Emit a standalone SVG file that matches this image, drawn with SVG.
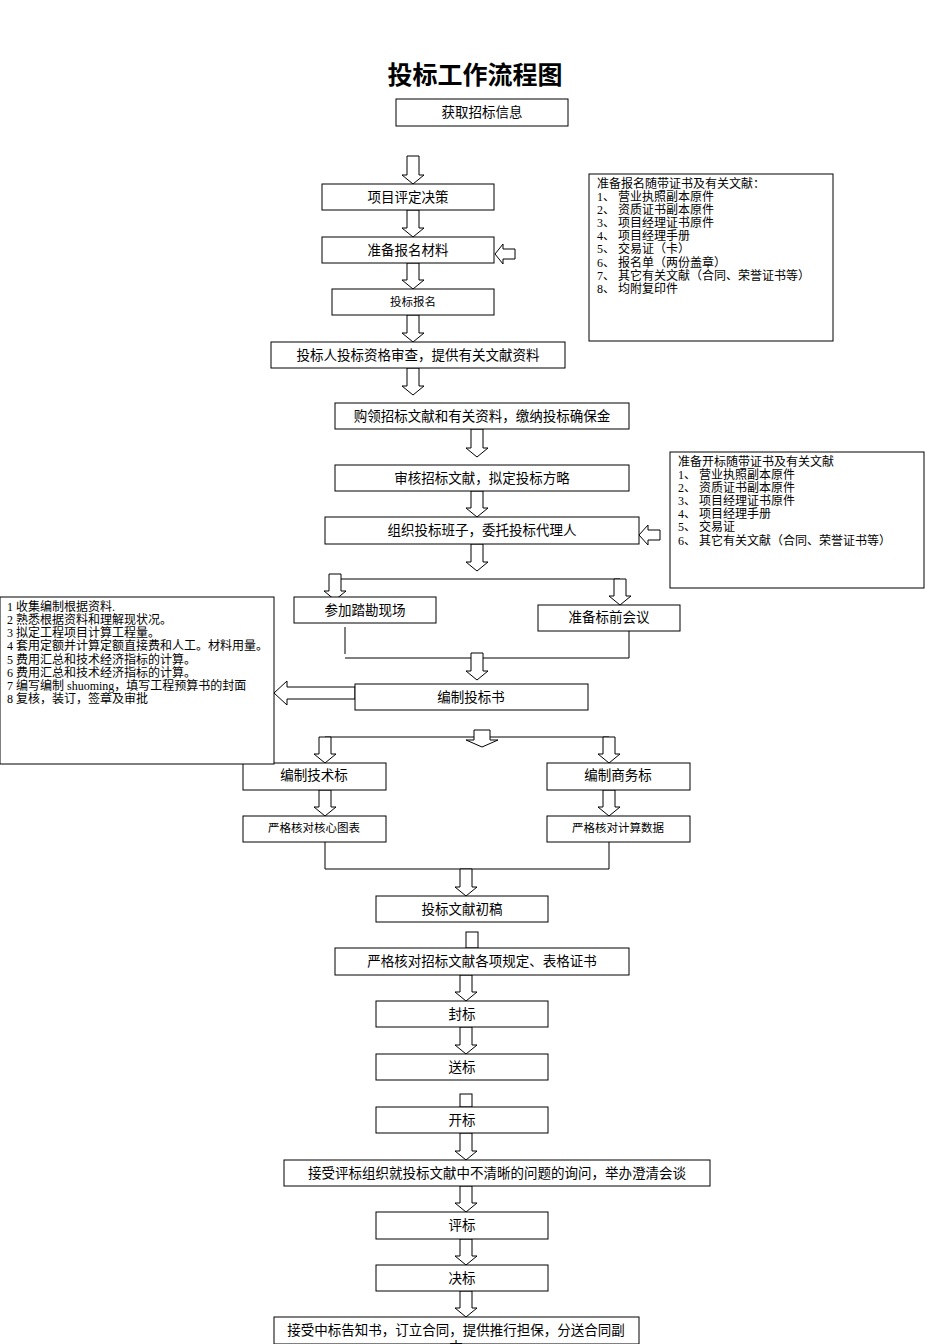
<svg xmlns="http://www.w3.org/2000/svg" width="950" height="1344" viewBox="0 0 950 1344">
<style>
.b{fill:#fff;stroke:#000;stroke-width:1}
.t{font-family:"Liberation Serif","Noto Sans CJK SC",serif;font-size:13.5px;text-anchor:middle;fill:#000}
.s{font-size:11.5px}
.n{font-family:"Liberation Serif","Noto Sans CJK SC",serif;font-size:12px;fill:#000}
.a{fill:#fff;stroke:#000;stroke-width:1}
.l{fill:none;stroke:#000;stroke-width:1}
</style>
<rect width="950" height="1344" fill="#fff"/>
<text x="475" y="84" style="font-family:'Liberation Serif','Noto Sans CJK SC',serif;font-size:25px;font-weight:bold" text-anchor="middle">投标工作流程图</text>

<g id="connectors">
<path class="a" d="M407,156h12v19h5l-11,9l-11,-9h5z"/>
<path class="a" d="M407,210h12v18h5l-11,9l-11,-9h5z"/>
<path class="a" d="M407,263h12v17h5l-11,9l-11,-9h5z"/>
<path class="a" d="M407,315h12v18h5l-11,9l-11,-9h5z"/>
<path class="a" d="M407,368h12v18h5l-11,9l-11,-9h5z"/>
<path class="a" d="M471,429h12v19h5l-11,9l-11,-9h5z"/>
<path class="a" d="M471,491h12v17h5l-11,9l-11,-9h5z"/>
<path class="a" d="M471,544h12v18h5l-11,9l-11,-9h5z"/>
<path class="l" d="M335,579H620"/>
<path class="a" d="M329,574h12v17h5l-11,9l-11,-9h5z"/>
<path class="a" d="M614,579h12v17h5l-11,9l-11,-9h5z"/>
<path class="l" d="M345,627v27M345,658H629V631"/>
<path class="a" d="M471,653h12v18h5l-11,9l-11,-9h5z"/>
<path class="a" d="M355,687v12h-68v6l-13,-12l13,-12v6z"/>
<path class="a" d="M515,249v10h-12v5l-8,-10l8,-10v5z"/>
<path class="a" d="M660,530v10h-12v5l-9,-10l9,-10v5z"/>
<path class="l" d="M325,737H609"/>
<path class="a" d="M474,730h16v10h8l-16,7l-16,-7h8z"/>
<path class="a" d="M319,737h12v17h5l-11,9l-11,-9h5z"/>
<path class="a" d="M603,737h12v17h5l-11,9l-11,-9h5z"/>
<path class="a" d="M319,790h12v17h5l-11,9l-11,-9h5z"/>
<path class="a" d="M603,790h12v17h5l-11,9l-11,-9h5z"/>
<path class="l" d="M325,842v27H609V842"/>
<path class="a" d="M460,869h12v18h5l-11,9l-11,-9h5z"/>
<rect class="a" x="466" y="932" width="12" height="16"/>
<path class="a" d="M460,975h12v17h5l-11,9l-11,-9h5z"/>
<path class="a" d="M460,1027h12v18h5l-11,9l-11,-9h5z"/>
<rect class="a" x="460" y="1094" width="12" height="13"/>
<path class="a" d="M460,1133h12v18h5l-11,9l-11,-9h5z"/>
<path class="a" d="M460,1186h12v17h5l-11,9l-11,-9h5z"/>
<path class="a" d="M460,1239h12v17h5l-11,9l-11,-9h5z"/>
<path class="a" d="M460,1291h12v17h5l-11,9l-11,-9h5z"/>
</g>

<g id="n1"><rect class="b" x="396" y="99" width="172" height="27"/><text class="t" x="482" y="117">获取招标信息</text></g>
<g id="n2"><rect class="b" x="322" y="184" width="172" height="26"/><text class="t" x="408" y="202">项目评定决策</text></g>
<g id="n3"><rect class="b" x="322" y="237" width="172" height="26"/><text class="t" x="408" y="255">准备报名材料</text></g>
<g id="n4"><rect class="b" x="332" y="289" width="162" height="26"/><text class="t s" x="413" y="306">投标报名</text></g>
<g id="n5"><rect class="b" x="271" y="342" width="294" height="26"/><text class="t" x="418" y="360">投标人投标资格审查，提供有关文献资料</text></g>
<g id="n6"><rect class="b" x="335" y="403" width="294" height="26"/><text class="t" x="482" y="421">购领招标文献和有关资料，缴纳投标确保金</text></g>
<g id="n7"><rect class="b" x="335" y="465" width="294" height="26"/><text class="t" x="482" y="483">审核招标文献，拟定投标方略</text></g>
<g id="n8"><rect class="b" x="325" y="517" width="314" height="27"/><text class="t" x="482" y="535">组织投标班子，委托投标代理人</text></g>
<g id="n9"><rect class="b" x="294" y="597" width="142" height="26"/><text class="t" x="365" y="615">参加踏勘现场</text></g>
<g id="n10"><rect class="b" x="538" y="605" width="142" height="26"/><text class="t" x="609" y="622">准备标前会议</text></g>
<g id="n11"><rect class="b" x="355" y="684" width="233" height="26"/><text class="t" x="471" y="702">编制投标书</text></g>
<g id="n12"><rect class="b" x="243" y="763" width="143" height="27"/><text class="t" x="314" y="780">编制技术标</text></g>
<g id="n13"><rect class="b" x="547" y="763" width="143" height="27"/><text class="t" x="618" y="780">编制商务标</text></g>
<g id="n14"><rect class="b" x="243" y="816" width="143" height="26"/><text class="t s" x="314" y="832">严格核对核心图表</text></g>
<g id="n15"><rect class="b" x="547" y="816" width="143" height="26"/><text class="t s" x="618" y="832">严格核对计算数据</text></g>
<g id="n16"><rect class="b" x="376" y="896" width="172" height="26"/><text class="t" x="462" y="914">投标文献初稿</text></g>
<g id="n17"><rect class="b" x="335" y="948" width="294" height="27"/><text class="t" x="482" y="966">严格核对招标文献各项规定、表格证书</text></g>
<g id="n18"><rect class="b" x="376" y="1001" width="172" height="26"/><text class="t" x="462" y="1019">封标</text></g>
<g id="n19"><rect class="b" x="376" y="1054" width="172" height="26"/><text class="t" x="462" y="1072">送标</text></g>
<g id="n20"><rect class="b" x="376" y="1107" width="172" height="26"/><text class="t" x="462" y="1125">开标</text></g>
<g id="n21"><rect class="b" x="284" y="1160" width="426" height="26"/><text class="t" x="497" y="1178">接受评标组织就投标文献中不清晰的问题的询问，举办澄清会谈</text></g>
<g id="n22"><rect class="b" x="376" y="1212" width="172" height="27"/><text class="t" x="462" y="1230">评标</text></g>
<g id="n23"><rect class="b" x="376" y="1265" width="172" height="26"/><text class="t" x="462" y="1283">决标</text></g>
<g id="n24"><rect class="b" x="274" y="1317" width="365" height="27"/><text class="t" x="456" y="1335">接受中标告知书，订立合同，提供推行担保，分送合同副</text><text class="t" x="456" y="1352">本</text></g>

<g id="note1"><rect class="b" x="589" y="174" width="244" height="167"/>
<text class="n" x="597" y="188">准备报名随带证书及有关文献：</text>
<text class="n" x="597" y="201">1、 营业执照副本原件</text>
<text class="n" x="597" y="214">2、 资质证书副本原件</text>
<text class="n" x="597" y="227">3、 项目经理证书原件</text>
<text class="n" x="597" y="240">4、 项目经理手册</text>
<text class="n" x="597" y="253">5、 交易证（卡）</text>
<text class="n" x="597" y="267">6、 报名单（两份盖章）</text>
<text class="n" x="597" y="280">7、 其它有关文献（合同、荣誉证书等）</text>
<text class="n" x="597" y="293">8、 均附复印件</text>
</g>
<g id="note2"><rect class="b" x="670" y="452" width="254" height="136"/>
<text class="n" x="678" y="466">准备开标随带证书及有关文献</text>
<text class="n" x="678" y="479">1、 营业执照副本原件</text>
<text class="n" x="678" y="492">2、 资质证书副本原件</text>
<text class="n" x="678" y="505">3、 项目经理证书原件</text>
<text class="n" x="678" y="518">4、 项目经理手册</text>
<text class="n" x="678" y="531">5、 交易证</text>
<text class="n" x="678" y="545">6、 其它有关文献（合同、荣誉证书等）</text>
</g>
<g id="note3"><rect class="b" x="0" y="597" width="274" height="167"/>
<text class="n" x="7" y="611">1 收集编制根据资料.</text>
<text class="n" x="7" y="624">2 熟悉根据资料和理解现状况。</text>
<text class="n" x="7" y="637">3 拟定工程项目计算工程量。</text>
<text class="n" x="7" y="650">4 套用定额并计算定额直接费和人工。材料用量。</text>
<text class="n" x="7" y="664">5 费用汇总和技术经济指标的计算。</text>
<text class="n" x="7" y="677">6 费用汇总和技术经济指标的计算。</text>
<text class="n" x="7" y="690">7 编写编制 shuoming，填写工程预算书的封面</text>
<text class="n" x="7" y="703">8 复核，装订，签章及审批</text>
</g>
</svg>
